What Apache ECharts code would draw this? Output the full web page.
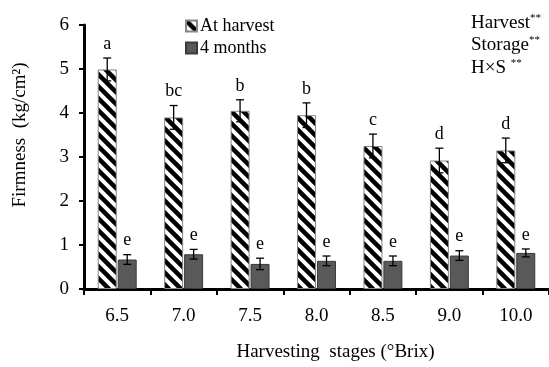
<!DOCTYPE html>
<html><head><meta charset="utf-8">
<script src="https://cdn.jsdelivr.net/npm/echarts@6/dist/echarts.min.js"></script>
<style>html,body{margin:0;padding:0;background:#fff}#c{width:549px;height:367px}</style>
</head><body><div id="c"></div>
<script>
const categories = ['6.5','7.0','7.5','8.0','8.5','9.0','10.0'];
const harvestVals = [4.99, 3.90, 4.05, 3.95, 3.25, 2.92, 3.15];
const harvestErr  = [0.26, 0.27, 0.25, 0.28, 0.27, 0.28, 0.28];
const harvestLetters = ['a','bc','b','b','c','d','d'];
const storageVals = [0.67, 0.79, 0.57, 0.64, 0.64, 0.76, 0.82];
const storageErr  = [0.11, 0.11, 0.13, 0.11, 0.11, 0.11, 0.09];
const storageLetters = ['e','e','e','e','e','e','e'];
const yTicks = [0,1,2,3,4,5,6];

const FONT = '"Liberation Serif","DejaVu Serif",serif';
const BAR_W = 19, GAP = 1;

function makeHatch(){
  const s = 12, cv = document.createElement('canvas');
  cv.width = s; cv.height = s;
  const g = cv.getContext('2d');
  g.fillStyle = '#fff'; g.fillRect(0,0,s,s);
  g.strokeStyle = '#000'; g.lineWidth = 4.5;
  for (let k=-1;k<=1;k++){
    g.beginPath(); g.moveTo(k*s-3,-3); g.lineTo(k*s+s+3,s+3); g.stroke();
  }
  return cv;
}
const hatch = {image: makeHatch(), repeat: 'repeat'};

function errItem(offset, letters){
  return function(params, api){
    const i = api.value(0), v = api.value(1), e = api.value(2);
    const c = api.coord([i, v]);
    const x = c[0] + offset;
    const yt = api.coord([i, v + e])[1];
    const yb = api.coord([i, v - e])[1];
    const st = {stroke:'#000', lineWidth:1.3};
    return {type:'group', children:[
      {type:'line', shape:{x1:x,y1:yt,x2:x,y2:yb}, style:st},
      {type:'line', shape:{x1:x-4,y1:yt,x2:x+4,y2:yt}, style:st},
      {type:'line', shape:{x1:x-4,y1:yb,x2:x+4,y2:yb}, style:st},
      {type:'text', style:{text:letters[i], x:x, y:yt-5, textAlign:'center', textVerticalAlign:'bottom', font:'18px '+FONT, fill:'#000'}}
    ]};
  };
}

const supRich = {s:{fontSize:11, verticalAlign:'top', padding:[0,0,9,0], fontFamily:FONT}};
const chart = echarts.init(document.getElementById('c'), null, {renderer:'canvas'});
chart.setOption({
  animation:false,
  textStyle:{fontFamily:FONT},
  grid:{left:84, right:-2, top:25, bottom:77},
  legend:{
    orient:'vertical', left:180, top:12, itemWidth:11, itemHeight:11, itemGap:4,
    icon:'rect',
    textStyle:{fontSize:18, fontFamily:FONT, color:'#000', padding:[0,0,0,-2]},
    data:['At harvest','4 months']
  },
  xAxis:{
    type:'category', data:categories,
    axisLine:{lineStyle:{color:'#000', width:3}},
    axisTick:{show:true, length:6, lineStyle:{color:'#000', width:2}},
    axisLabel:{fontSize:19, fontFamily:FONT, color:'#000', margin:18},
    name:'Harvesting  stages (°Brix)', nameLocation:'middle', nameGap:54,
    nameTextStyle:{fontSize:19, fontFamily:FONT, color:'#000', padding:[0,0,0,38]}
  },
  yAxis:{
    type:'value', min:0, max:6, interval:1,
    splitLine:{show:false},
    axisLine:{show:true, lineStyle:{color:'#000', width:3}},
    axisTick:{show:true, length:5, lineStyle:{color:'#000', width:2}},
    axisLabel:{fontSize:19, fontFamily:FONT, color:'#000', margin:15,
      formatter:function(v){return yTicks.indexOf(v)>=0?String(v):'';}},
    name:'Firmness  (kg/cm²)', nameLocation:'middle', nameGap:54, nameRotate:90,
    nameTextStyle:{fontSize:19, fontFamily:FONT, color:'#000', padding:[0,0,0,44]}
  },
  graphic:[
    {type:'text', left:471, top:13, style:{text:'Harvest{s|**}', font:'19px '+FONT, fill:'#000', rich:supRich}},
    {type:'text', left:471, top:35, style:{text:'Storage{s|**}', font:'19px '+FONT, fill:'#000', rich:supRich}},
    {type:'text', left:471, top:58, style:{text:'H×S {s|**}', font:'19px '+FONT, fill:'#000', rich:supRich}}
  ],
  series:[
    {name:'At harvest', type:'bar', data:harvestVals, barWidth:BAR_W, barGap:'5%',
      itemStyle:{color:hatch, borderColor:'#888', borderWidth:1}},
    {name:'4 months', type:'bar', data:storageVals, barWidth:BAR_W, barGap:'5%',
      itemStyle:{color:'#595959', borderColor:'#3a3a3a', borderWidth:1}},
    {type:'custom', data:harvestVals.map((v,i)=>[i,v,harvestErr[i]]),
      renderItem:errItem(-(BAR_W+GAP)/2, harvestLetters), z:5},
    {type:'custom', data:storageVals.map((v,i)=>[i,v,storageErr[i]]),
      renderItem:errItem((BAR_W+GAP)/2, storageLetters), z:5}
  ]
});
</script></body></html>
